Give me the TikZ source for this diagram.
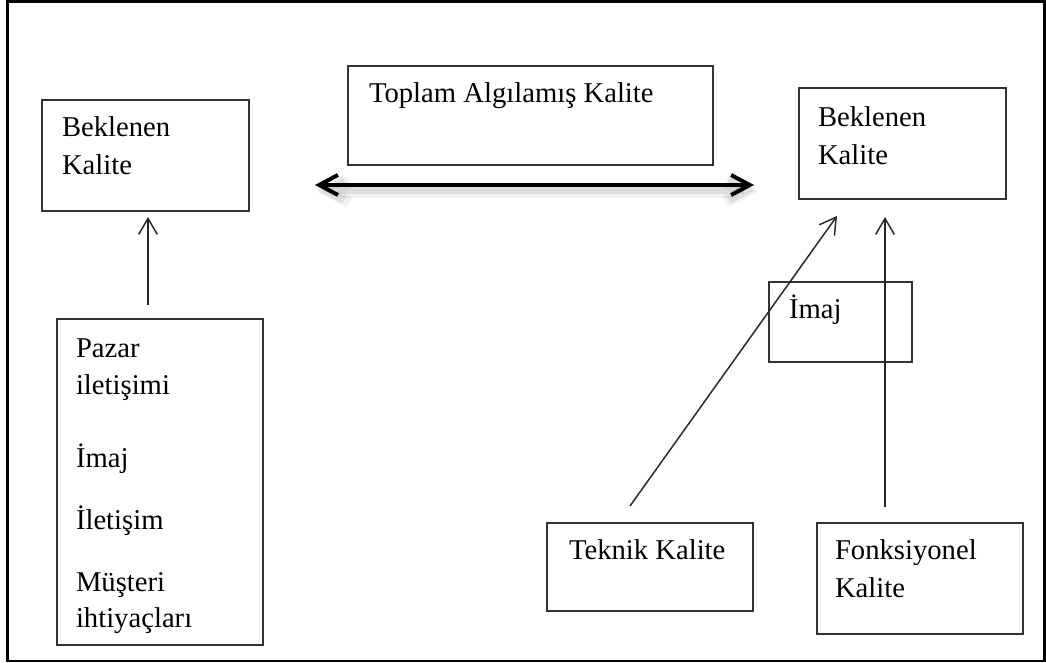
\documentclass[tikz,border=0pt]{standalone}
\usepackage{fontspec}
\setmainfont{Liberation Serif}
\usetikzlibrary{arrows.meta,calc}

\begin{document}
\begin{tikzpicture}[x=0.75pt,y=-0.75pt,
  box/.style 2 args={draw=black!80, line width=1.1pt, rectangle, inner sep=0pt,
    outer sep=0pt, anchor=north west, minimum width=#1*0.75pt, minimum height=#2*0.75pt},
  txt/.style={anchor=base west, inner sep=0pt, outer sep=0pt,
    font=\fontsize{21.5}{28}\selectfont},
  thinarrow/.style={draw=black!85, line width=1.1pt,
    -{Straight Barb[length=12pt,width=14pt,line width=1.1pt]}},
  boldarrow/.style={line width=3pt,
    {Straight Barb[length=14pt,width=15pt]}-{Straight Barb[length=14pt,width=15pt]}}]

\useasboundingbox (0,0) rectangle (1046,663);

% outer frame
\draw[line width=1.6pt] (7.5,1.5) rectangle (1044.5,661);

% boxes
\node[box={207}{111}] (lbek) at (42,100) {};
\node[box={365}{99}]  (top)  at (348,66) {};
\node[box={207}{111}] (rbek) at (799,88) {};
\node[box={206}{326}] (big)  at (57,319) {};
\node[box={143}{80}]  (imaj) at (769,282) {};
\node[box={206}{88}]  (tek)  at (547,523) {};
\node[box={206}{111}] (fonk) at (817,523) {};

% box texts
\node[txt] (lbek1) at ($(lbek.north west)+(20,37)$) {Beklenen};
\node[txt] (lbek2) at ($(lbek.north west)+(20,75)$) {Kalite};
\node[txt] (top1)  at ($(top.north west)+(21,37)$) {Toplam Algılamış Kalite};
\node[txt] (rbek1) at ($(rbek.north west)+(19,39)$) {Beklenen};
\node[txt] (rbek2) at ($(rbek.north west)+(19,77)$) {Kalite};
\node[txt] (big1)  at ($(big.north west)+(19,38)$) {Pazar};
\node[txt] (big2)  at ($(big.north west)+(19,75)$) {iletişimi};
\node[txt] (big3)  at ($(big.north west)+(19,148)$) {İmaj};
\node[txt] (big4)  at ($(big.north west)+(19,210)$) {İletişim};
\node[txt] (big5)  at ($(big.north west)+(19,272)$) {Müşteri};
\node[txt] (big6)  at ($(big.north west)+(19,308)$) {ihtiyaçları};
\node[txt] (imaj1) at ($(imaj.north west)+(20,36)$) {İmaj};
\node[txt] (tek1)  at ($(tek.north west)+(22,36)$) {Teknik Kalite};
\node[txt] (fonk1) at ($(fonk.north west)+(18,36)$) {Fonksiyonel};
\node[txt] (fonk2) at ($(fonk.north west)+(18,74)$) {Kalite};

% double arrow endpoints between the two upper boxes
\coordinate (dl) at ($(lbek.south east)+(66,-26)$);
\coordinate (dr) at ($(rbek.south west)+(-45,-14)$);

% soft shadow under the double arrow
\draw[boldarrow, draw=black, line width=9pt, opacity=0.05] ($(dl)+(3,7)$) -- ($(dr)+(3,7)$);
\draw[boldarrow, draw=black, line width=6pt, opacity=0.08] ($(dl)+(2,5)$) -- ($(dr)+(2,5)$);
\draw[boldarrow, draw=black] (dl) -- (dr);

% thin arrows
\draw[thinarrow] ($(big.north west)+(91,-14)$) -- ($(lbek.south west)+(106,6)$);
\draw[thinarrow] ($(tek.north west)+(83,-17)$) -- ($(rbek.south west)+(38,17)$);
\draw[thinarrow] ($(fonk.north west)+(68,-16)$) -- ($(rbek.south west)+(86,18)$);

\end{tikzpicture}
\end{document}
